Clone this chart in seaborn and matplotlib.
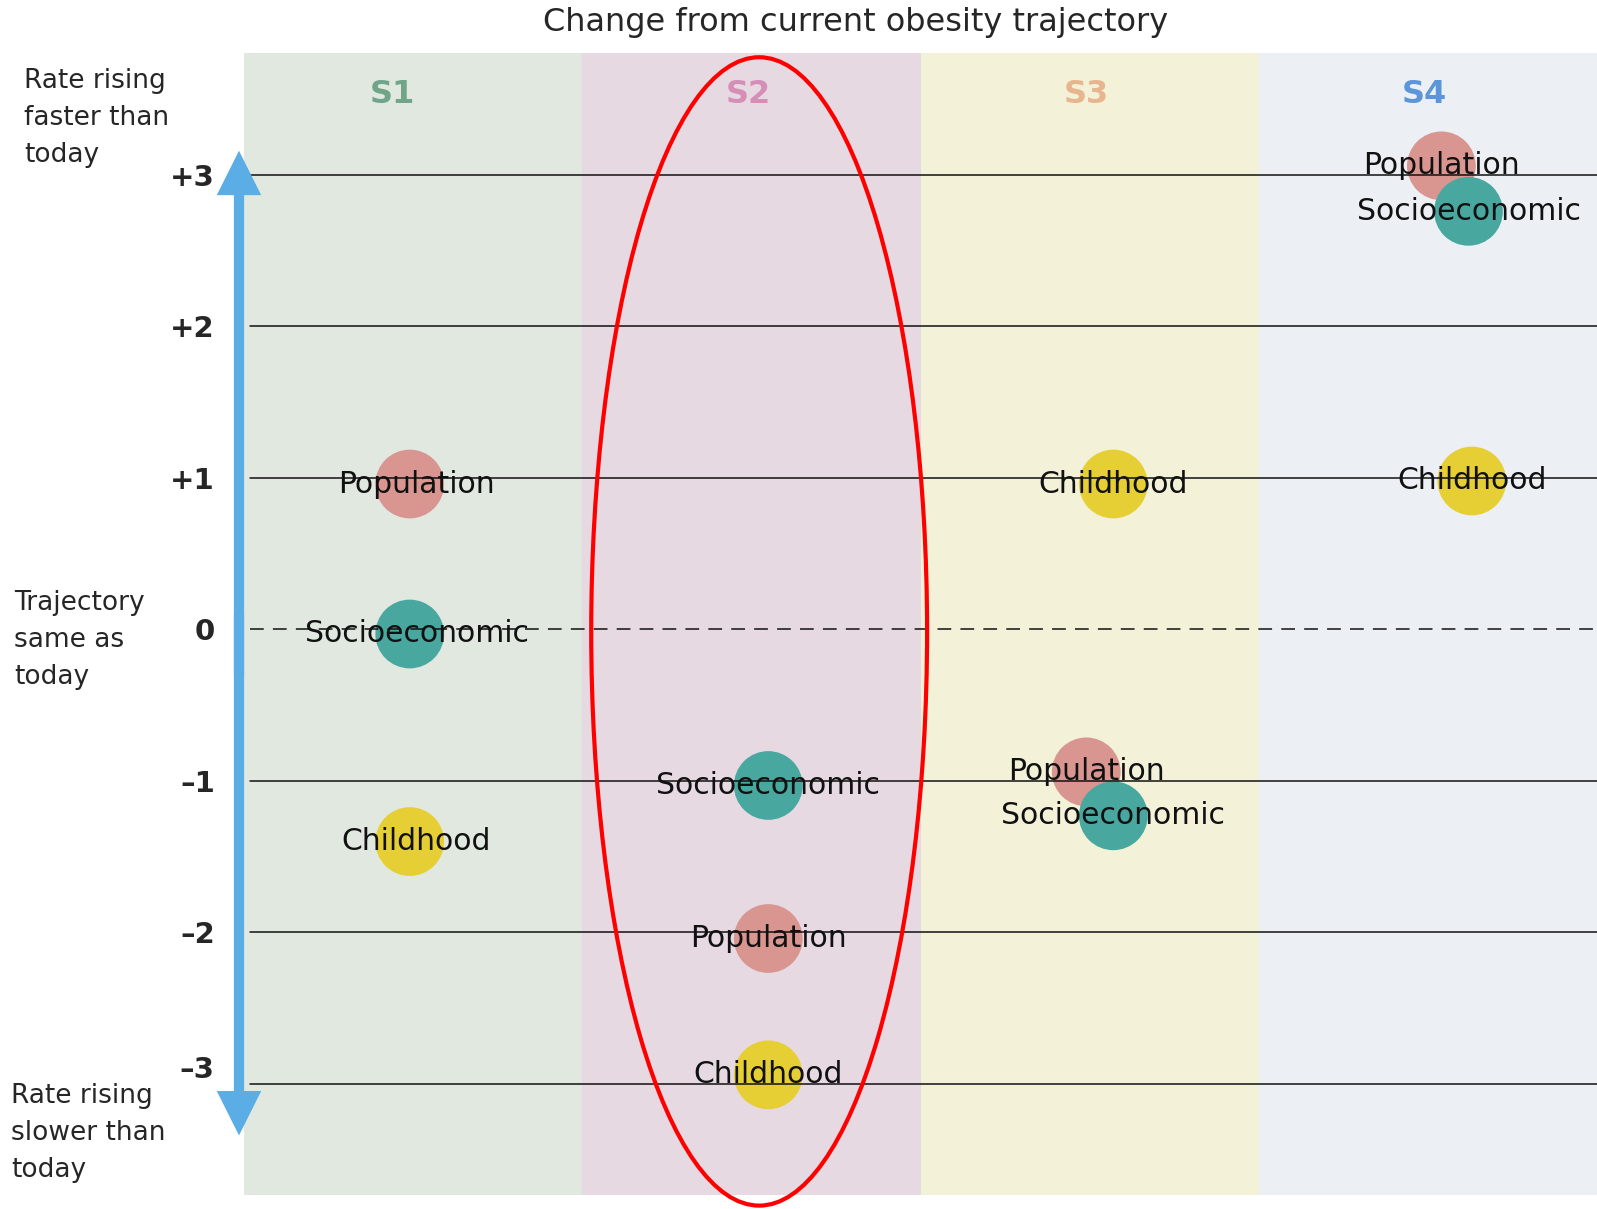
import matplotlib

matplotlib.use("Agg")

import matplotlib.pyplot as plt
import matplotlib.transforms as mtransforms
import pandas as pd
import seaborn as sns
from matplotlib.patches import ArrowStyle, Ellipse, FancyArrowPatch

scenarios = ["S1", "S2", "S3", "S4"]
indicators = ["Population", "Socioeconomic", "Childhood"]
population_change = [0.96, -2.04, -0.94, 3.06]
socioeconomic_change = [-0.03, -1.03, -1.23, 2.76]
childhood_change = [-1.40, -2.94, 0.96, 0.98]
y_ticks = [3, 2, 1, 0, -1, -2, -3]
y_tick_labels = ["+3", "+2", "+1", "0", "\u20131", "\u20132", "\u20133"]

# where each dot sits inside its scenario column
population_offset = [0.49, 0.55, 0.49, 0.54]
socioeconomic_offset = [0.49, 0.55, 0.57, 0.62]
childhood_offset = [0.49, 0.55, 0.57, 0.63]
header_offset = [0.44, 0.49, 0.49, 0.49]

panel_colors = ["#E1E8E0", "#E7D9E2", "#F3F1D8", "#ECF0F4"]
header_colors = ["#70A58A", "#D58FB7", "#E8B68E", "#5C96D8"]
dot_colors = {"Population": "#D9958F", "Socioeconomic": "#48A8A0", "Childhood": "#E6CF35"}

rows = []
for i, scenario in enumerate(scenarios):
    for name, values, offsets in [
        ("Population", population_change, population_offset),
        ("Socioeconomic", socioeconomic_change, socioeconomic_offset),
        ("Childhood", childhood_change, childhood_offset),
    ]:
        rows.append({"scenario": scenario, "indicator": name,
                     "x": i + offsets[i], "change": values[i]})
df = pd.DataFrame(rows)

sns.set_style("white")
plt.rcParams["font.family"] = ["DejaVu Sans"]

W, H = 1597, 1209
fig = plt.figure(figsize=(W / 100, H / 100), dpi=100)
ax = fig.add_axes([244 / W, 1 - 1195 / H, (W - 244) / W, (1195 - 53) / H])
ax.set_xlim(0, 4)
ax.set_ylim(-3.733, 3.805)

for i, scenario in enumerate(scenarios):
    ax.axvspan(i, i + 1, color=panel_colors[i], lw=0, zorder=0)
    ax.text(i + header_offset[i], 3.53, scenario, ha="center", va="center",
            fontsize=23, fontweight="bold", color=header_colors[i])

sns.scatterplot(data=df, x="x", y="change", hue="indicator", palette=dot_colors,
                s=2450, linewidth=0, legend=False, ax=ax, zorder=2)

for v in y_ticks:
    ax.axhline(v, xmin=6 / 1353, color="#111111", lw=1.1, zorder=3,
               ls=(0, (9, 6)) if v == 0 else "-")

for _, r in df.iterrows():
    # S1 labels sit a touch right of their dots
    nudge = 0.02 if r["scenario"] == "S1" else 0.0
    ax.text(r["x"] + nudge, r["change"], r["indicator"], ha="center", va="center",
            fontsize=21.5, color="#111111", zorder=4)

ax.add_patch(Ellipse((1.523, -0.013), 0.993, 7.58, fill=False, ec="#FF0000",
                     lw=3, zorder=5, clip_on=False))

blend = mtransforms.blended_transform_factory(ax.transAxes, ax.transData)
style = ArrowStyle.Simple(head_length=1.0, head_width=1.0, tail_width=0.23)
for start, tip in ((-0.3, 3.16), (0.1, -3.34)):
    ax.add_patch(FancyArrowPatch((-0.0037, start), (-0.0037, tip), transform=blend,
                                 arrowstyle=style, mutation_scale=32, color="#5AAEE5",
                                 lw=0, shrinkA=0, shrinkB=0, clip_on=False, zorder=6))

ax.set_xticks([])
ax.set_yticks(y_ticks, y_tick_labels, fontsize=21, fontweight="bold")
ax.tick_params(axis="y", length=0, pad=21)
ax.set_xlabel("")
ax.set_ylabel("")
sns.despine(ax=ax, left=True, bottom=True)
low = ax.get_yticklabels()[-1]
low.set_transform(low.get_transform()
                  + mtransforms.ScaledTranslation(0, 12 / 72, fig.dpi_scale_trans))

fig.text(856 / W, 1 - 23 / H, "Change from current obesity trajectory",
         ha="center", va="center", fontsize=23)
side_labels = [
    (24, 118, "Rate rising\nfaster than\ntoday"),
    (14, 640, "Trajectory\nsame as\ntoday"),
    (11, 1133, "Rate rising\nslower than\ntoday"),
]
for x, y, s in side_labels:
    fig.text(x / W, 1 - y / H, s, ha="left", va="center", fontsize=19,
             linespacing=1.55)

fig.savefig("out.png", dpi=100)
